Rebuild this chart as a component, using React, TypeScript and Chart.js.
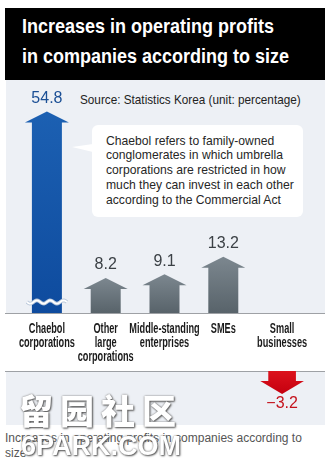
import React, { useEffect, useRef } from "react";
import { Chart, registerables } from "chart.js";

Chart.register(...registerables);

// ---------- data ----------
const categories: string[][] = [
  ["Chaebol", "corporations"],
  ["Other", "large", "corporations"],
  ["Middle-standing", "enterprises"],
  ["SMEs"],
  ["Small", "businesses"],
];
const values: number[] = [54.8, 8.2, 9.1, 13.2, -3.2];
const valueLabels: string[] = ["54.8", "8.2", "9.1", "13.2", "\u22123.2"];
const arrowKinds: string[] = ["chaebol", "other", "other", "other", "negative"];
const AXIS_BREAK = 47.3; // values above this are shown cut by a broken-axis mark
const UPPER_MAX = 50;
const LOWER_MIN = -7.5;

const titleLines: string[] = ["Increases in operating profits", "in companies according to size"];
const sourceText = "Source: Statistics Korea (unit: percentage)";
const noteLines: string[] = [
  "Chaebol refers to family-owned",
  "conglomerates in which umbrella",
  "corporations are restricted in how",
  "much they can invest in each other",
  "according to the Commercial Act",
];
const captionText = "Increases in operating profits in companies according to size";

const upperData = values.map((v) => (v > 0 ? Math.min(v, AXIS_BREAK) : null));
const lowerData = values.map((v) => (v < 0 ? v : null));

const palette: Record<string, { top: string; bottom: string; label: string }> = {
  chaebol: { top: "#1c60b2", bottom: "#0e4b9e", label: "#1b4f95" },
  other: { top: "#7c878f", bottom: "#58636a", label: "#3b4045" },
  negative: { top: "#c5000f", bottom: "#dc121c", label: "#c4121c" },
};

const SANS = '"Liberation Sans", Arial, sans-serif';

const arrowPlugin = {
  id: "arrows",
  afterDatasetsDraw(chart: any) {
    const ctx: CanvasRenderingContext2D = chart.ctx;
    const meta = chart.getDatasetMeta(0);
    const data = chart.data.datasets[0].data;
    const zero = chart.scales.y.getPixelForValue(0);
    ctx.save();
    ctx.strokeStyle = "#9ea1a5";
    ctx.lineWidth = 1;
    ctx.beginPath();
    const ly = Math.floor(zero) + 0.5;
    ctx.moveTo(5, ly);
    ctx.lineTo(325, ly);
    ctx.stroke();

    meta.data.forEach((el: any, i: number) => {
      if (data[i] === null || data[i] === undefined) return;
      const { x, y, base, width } = el.getProps(["x", "y", "base", "width"], true);
      const kind = arrowKinds[i];
      const c = palette[kind];
      const up = y < base;
      const headH = kind === "negative" ? 13 : 11;
      const ext = kind === "negative" ? 8 : 7;
      const half = width / 2;
      const neck = up ? y + headH : y - headH;
      const g = ctx.createLinearGradient(0, y, 0, base);
      g.addColorStop(0, c.top);
      g.addColorStop(1, c.bottom);
      ctx.fillStyle = g;
      ctx.beginPath();
      ctx.moveTo(x - half, base);
      ctx.lineTo(x - half, neck);
      ctx.lineTo(x - half - ext, neck);
      ctx.lineTo(x, y);
      ctx.lineTo(x + half + ext, neck);
      ctx.lineTo(x + half, neck);
      ctx.lineTo(x + half, base);
      ctx.closePath();
      ctx.fill();

      if (values[i] > AXIS_BREAK) {
        const yw = base - 11;
        const drawWave = (color: string, lw: number) => {
          ctx.strokeStyle = color;
          ctx.lineWidth = lw;
          ctx.beginPath();
          for (let k = 0; k <= 40; k++) {
            const xx = x - 20 + k;
            const yy = yw + 1.6 * Math.sin((k / 40) * Math.PI * 2 * 3);
            if (k === 0) ctx.moveTo(xx, yy);
            else ctx.lineTo(xx, yy);
          }
          ctx.stroke();
        };
        drawWave("#b9c7d9", 3.6);
        drawWave("#ffffff", 1.8);
      }

      ctx.fillStyle = c.label;
      ctx.font = `16px ${SANS}`;
      ctx.textAlign = "center";
      ctx.textBaseline = "middle";
      ctx.fillText(valueLabels[i], x, up ? y - 13 : y + 10);
    });
    ctx.restore();
  },
};

// category labels under the zero line, placed with the x scale, drawn condensed
const categoryLabelPlugin = {
  id: "categoryLabels",
  afterDraw(chart: any) {
    const ctx: CanvasRenderingContext2D = chart.ctx;
    const xs = chart.scales.x;
    const zero = chart.scales.y.getPixelForValue(0);
    ctx.save();
    ctx.fillStyle = "#1a1a1a";
    ctx.font = `bold 14px ${SANS}`;
    ctx.textAlign = "center";
    ctx.textBaseline = "alphabetic";
    categories.forEach((lines, i) => {
      const x = xs.getPixelForValue(i);
      lines.forEach((line, j) => {
        ctx.save();
        ctx.translate(x, zero + 20 + j * 14);
        ctx.scale(0.655, 1);
        ctx.fillText(line, 0, 0);
        ctx.restore();
      });
    });
    ctx.restore();
  },
};

export default function App() {
  const upperRef = useRef<HTMLCanvasElement>(null);
  const lowerRef = useRef<HTMLCanvasElement>(null);

  useEffect(() => {
    const common = {
      responsive: false,
      animation: false as const,
      events: [] as any[],
      plugins: { legend: { display: false }, tooltip: { enabled: false } },
    };
    const upper = new Chart(upperRef.current as HTMLCanvasElement, {
      type: "bar",
      data: {
        labels: categories.map((l) => l.join(" ")),
        datasets: [
          {
            data: upperData,
            backgroundColor: "rgba(0,0,0,0)",
            borderWidth: 0,
            barPercentage: 0.51,
            categoryPercentage: 1,
          },
        ],
      },
      options: {
        ...common,
        layout: { padding: { left: 17.5, right: 21.5, top: 20, bottom: 58 } },
        scales: {
          x: { display: false, offset: true },
          y: { display: false, min: 0, max: UPPER_MAX },
        },
      },
      plugins: [arrowPlugin, categoryLabelPlugin],
    } as any);

    const lower = new Chart(lowerRef.current as HTMLCanvasElement, {
      type: "bar",
      data: {
        labels: categories.map((l) => l.join(" ")),
        datasets: [
          {
            data: lowerData,
            backgroundColor: "rgba(0,0,0,0)",
            borderWidth: 0,
            barPercentage: 0.47,
            categoryPercentage: 1,
          },
        ],
      },
      options: {
        ...common,
        layout: { padding: { left: 17.5, right: 21.5, top: 0, bottom: 0 } },
        scales: {
          x: { display: false, offset: true },
          y: { display: false, min: LOWER_MIN, max: 0 },
        },
      },
      plugins: [arrowPlugin],
    } as any);

    return () => {
      upper.destroy();
      lower.destroy();
    };
  }, []);

  const condensed = (s: number) => ({ transform: `scaleX(${s})`, transformOrigin: "0 0" });

  return (
    <div style={{ position: "absolute", left: 0, top: 0, width: 333, height: 471, background: "#fff", overflow: "hidden" }}>
      <div style={{ position: "absolute", left: 5, top: 8, width: 320, height: 72, background: "#000" }}>
        <div
          style={{
            position: "absolute",
            left: 17,
            top: 4.3,
            color: "#fff",
            fontFamily: SANS,
            fontWeight: "bold",
            fontSize: 20,
            lineHeight: "29.5px",
            whiteSpace: "nowrap",
            ...condensed(0.9),
          }}
        >
          {titleLines.map((t, i) => (
            <div key={i}>{t}</div>
          ))}
        </div>
      </div>
      <div style={{ position: "absolute", left: 6, top: 80, width: 319, height: 233, background: "#edf0f5" }} />
      <div style={{ position: "absolute", left: 6, top: 371, width: 319, height: 54, background: "#edf0f5" }} />

      <div
        style={{
          position: "absolute",
          left: 80,
          top: 92,
          fontFamily: SANS,
          fontSize: 13.5,
          lineHeight: "16px",
          color: "#222",
          whiteSpace: "nowrap",
          ...condensed(0.87),
        }}
      >
        {sourceText}
      </div>

      <div
        style={{
          position: "absolute",
          left: 72,
          top: 144,
          width: 0,
          height: 0,
          borderRight: "21px solid #fff",
          borderTop: "3px solid transparent",
          borderBottom: "5px solid transparent",
        }}
      />
      <div
        style={{
          position: "absolute",
          left: 92,
          top: 125,
          width: 211,
          height: 92,
          background: "#fff",
          borderRadius: 6,
        }}
      />
      <div
        style={{
          position: "absolute",
          left: 106,
          top: 133.6,
          fontFamily: SANS,
          fontSize: 13.5,
          lineHeight: "14.8px",
          color: "#262626",
          whiteSpace: "nowrap",
          ...condensed(0.9),
        }}
      >
        {noteLines.map((t, i) => (
          <div key={i}>{t}</div>
        ))}
      </div>

      <canvas ref={upperRef} width={333} height={291} style={{ position: "absolute", left: 0, top: 80 }} />
      <canvas ref={lowerRef} width={333} height={54} style={{ position: "absolute", left: 0, top: 371 }} />

      <div
        style={{
          position: "absolute",
          left: 5,
          top: 430.5,
          width: 312,
          fontFamily: SANS,
          fontSize: 12,
          lineHeight: "15px",
          color: "#555",
        }}
      >
        {captionText}
      </div>

      <div
        style={{
          position: "absolute",
          left: 19,
          top: 390,
          fontFamily: '"Noto Sans CJK SC", sans-serif',
          fontWeight: 900,
          fontSize: 34,
          letterSpacing: 7,
          lineHeight: "40px",
          color: "#fff",
          textShadow: "1px 1px 2px #555, 0 0 2px #777",
          whiteSpace: "nowrap",
        }}
      >
        留园社区
      </div>
      <div
        style={{
          position: "absolute",
          left: 21,
          top: 430,
          fontFamily: SANS,
          fontWeight: "bold",
          fontSize: 27,
          lineHeight: "32px",
          color: "#fff",
          textShadow: "1px 1px 2px #555, 0 0 2px #777",
          whiteSpace: "nowrap",
        }}
      >
        6PARK.COM
      </div>
    </div>
  );
}
